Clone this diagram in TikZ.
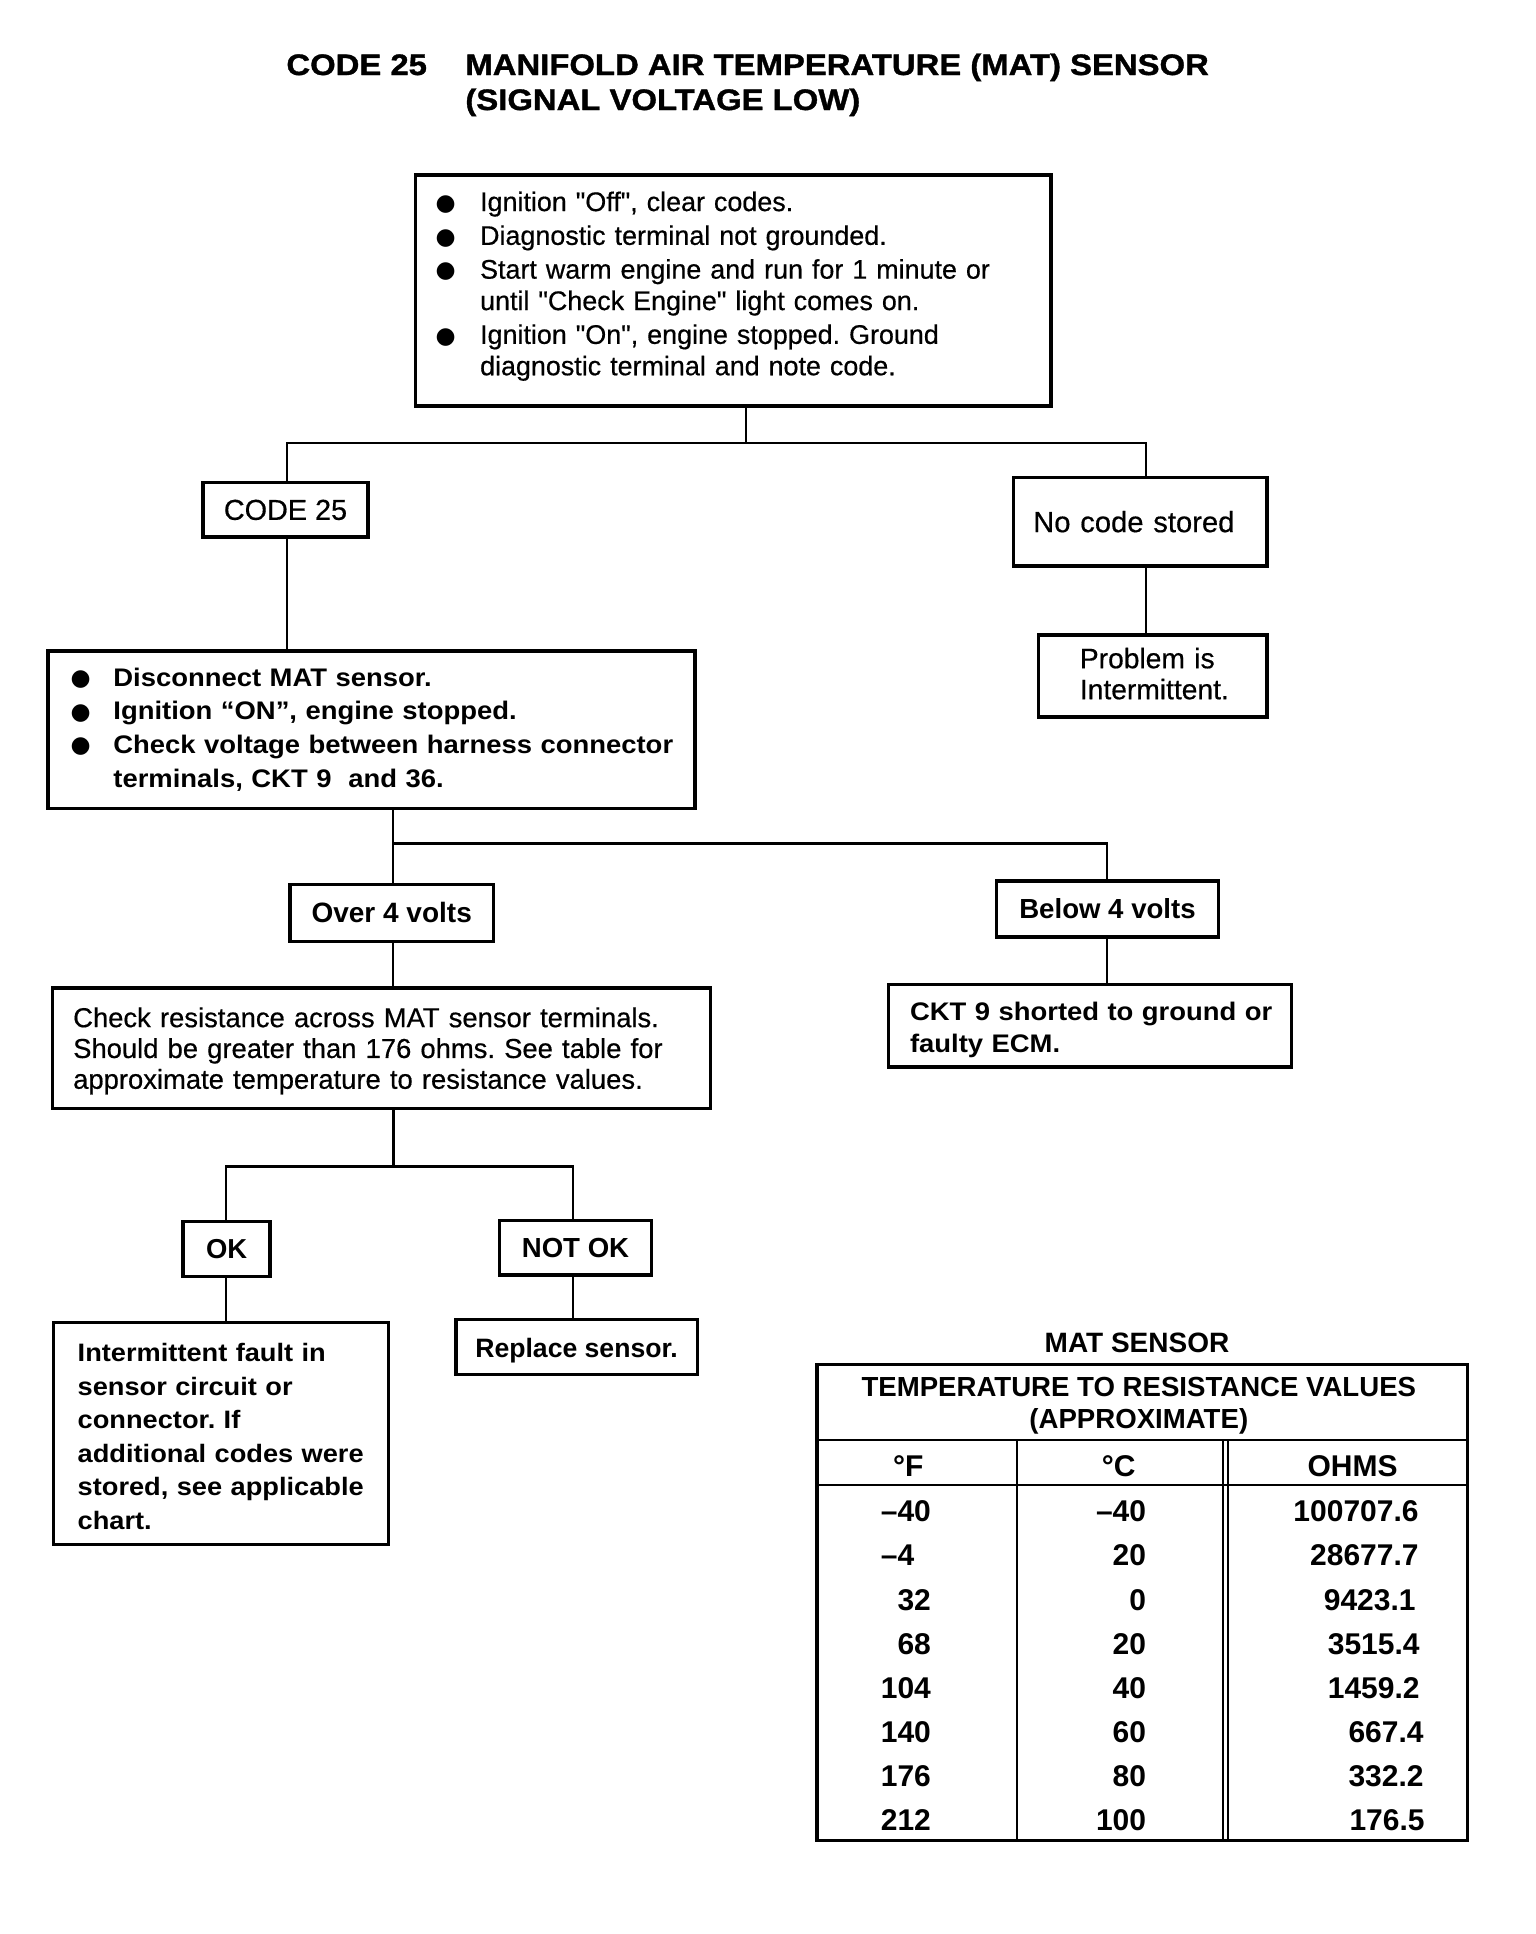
\documentclass[tikz,border=0pt]{standalone}
\usepackage{fontspec}
\setmainfont{Liberation Sans}
\newfontfamily\freg{Liberation Sans}
\newfontfamily\fmed{Liberation Sans}[FakeBold=0.5]
\newfontfamily\fstr{Liberation Sans}[FakeStretch=1.08]
\newfontfamily\ftit{Liberation Sans}[FakeStretch=1.11,FakeBold=1.2]
\newfontfamily\symfont{DejaVu Sans}
\newcommand{\fsz}[2]{\fontsize{#1}{#2}\selectfont}
\newcommand{\bul}[1][20.3pt]{\makebox[#1][l]{\raisebox{0.4pt}{\symfont\fontsize{11.5}{11.5}\selectfont ●}}}
\newcommand{\ind}[1][20.3pt]{\hspace*{#1}}
\begin{document}
\frenchspacing
\begin{tikzpicture}[x=0.5pt,y=-0.5pt,
  box/.style={draw,line width=1.7pt,inner ysep=0pt},
  conn/.style={line width=1.2pt},
  tline/.style={line width=1.3pt},
  ttext/.style={font=\freg\bfseries\fsz{15}{17},inner sep=0pt},
  ltext/.style={inner sep=0pt}]
\fill[white] (0,0) rectangle (1536,1934);
\useasboundingbox (0,0) rectangle (1536,1934);

% title
\node[ltext,anchor=base west,font=\ftit\bfseries\fsz{14.8}{17}] (t1) at (286,75) {CODE 25};
\node[ltext,anchor=base west,font=\ftit\bfseries\fsz{14.8}{17}] (t2) at (465,75) {MANIFOLD AIR TEMPERATURE (MAT) SENSOR};
\node[ltext,anchor=base west,font=\ftit\bfseries\fsz{14.8}{17}] (t3) at (465,110) {(SIGNAL VOLTAGE LOW)};

% boxes
\node[box,text width=297.75pt,inner xsep=10pt,minimum height=115.5pt,align=left,font=\fmed\fsz{13.45}{15.7}] (ign) at (733.25,290.5)
 {\bul[22.3pt]\mbox{Ignition "Off", clear codes.}\\[1.2pt]
  \bul[22.3pt]\mbox{Diagnostic terminal not grounded.}\\[1.2pt]
  \bul[22.3pt]\mbox{Start warm engine and run for 1 minute or}\\
  \ind[22.3pt]\mbox{until "Check Engine" light comes on.}\\[1.2pt]
  \bul[22.3pt]\mbox{Ignition "On", engine stopped. Ground}\\
  \ind[22.3pt]\mbox{diagnostic terminal and note code.}\rule[-7.1pt]{0pt}{0pt}};

\node[box,minimum width=82.5pt,minimum height=27.2pt,font=\fmed\fsz{14.4}{16}] (code25) at (285.5,509.9) {CODE 25};
\node[box,text width=106.8pt,inner xsep=10pt,minimum height=44.15pt,align=left,font=\fmed\fsz{14.6}{16}] (nocode) at (1140,521.7) {\mbox{No code stored}};
\node[box,text width=75pt,inner xsep=19.65pt,minimum height=41pt,align=left,font=\fmed\fsz{14.1}{15.5}] (problem) at (1152.5,675.8)
 {\hspace*{1.2pt}Problem is\\\hspace*{1.2pt}Intermittent.\rule[-2.3pt]{0pt}{0pt}};

\node[box,text width=306pt,inner xsep=8.7pt,minimum height=78.6pt,align=left,font=\fstr\bfseries\fsz{12.7}{16.85}] (disc) at (371.5,729.6)
 {\hspace*{2.55pt}\bul[21.4pt]\mbox{Disconnect MAT sensor.}\\
  \hspace*{2.55pt}\bul[21.4pt]\mbox{Ignition “ON”, engine stopped.}\\
  \hspace*{2.55pt}\bul[21.4pt]\mbox{Check voltage between harness connector}\\
  \hspace*{2.55pt}\ind[21.4pt]\mbox{terminals, CKT 9~ and 36.}};

\node[box,minimum width=101.8pt,minimum height=28.5pt,font=\freg\bfseries\fsz{14}{16}] (over) at (391.7,912.7) {Over 4 volts};
\node[box,minimum width=110.75pt,minimum height=28pt,font=\freg\bfseries\fsz{13.8}{16}] (below) at (1107.5,908.8) {Below 4 volts};

\node[box,text width=179.7pt,inner xsep=10.9pt,minimum height=41.3pt,align=left,font=\fstr\bfseries\fsz{12.7}{15.8}] (ckt) at (1089.7,1025.5)
 {\rule{0pt}{13.5pt}\mbox{CKT 9 shorted to ground or}\\\mbox{faulty ECM.}};

\node[box,text width=308pt,inner xsep=10.5pt,minimum height=60.2pt,align=left,font=\fmed\fsz{13.7}{15.4}] (check) at (381.2,1048.3)
 {\rule{0pt}{12.5pt}\mbox{Check resistance across MAT sensor terminals.}\\
  \mbox{Should be greater than 176 ohms. See table for}\\
  \mbox{approximate temperature to resistance values.}};

\node[box,minimum width=43.5pt,minimum height=27.5pt,font=\freg\bfseries\fsz{13.7}{16}] (ok) at (226.6,1249.2) {OK};
\node[box,minimum width=75.8pt,minimum height=27.3pt,font=\freg\bfseries\fsz{13.8}{16}] (notok) at (575.5,1247.7) {NOT OK};

\node[box,text width=143.5pt,inner xsep=12pt,minimum height=110.75pt,align=left,font=\fstr\bfseries\fsz{12.6}{16.8}] (inter) at (221.2,1433.5)
 {\rule{0pt}{12.2pt}\mbox{Intermittent fault in}\\\mbox{sensor circuit or}\\\mbox{connector. If}\\\mbox{additional codes were}\\\mbox{stored, see applicable}\\chart.};
\node[box,minimum width=120.7pt,minimum height=27.3pt,text height=10pt,text depth=0pt,font=\freg\bfseries\fsz{13.3}{16}] (repl) at (576.6,1347) {Replace sensor.};

% connectors
\coordinate (jA) at (746,442.7);
\coordinate (jAl) at (287,442.7);
\coordinate (jAr) at (1146,442.7);
\draw[conn] (ign.south -| jA) -- (jA);
\draw[conn] (code25.north -| jAl) -- (jAl) -- (jAr) -- (nocode.north -| jAr);
\draw[conn] (nocode.south -| jAr) -- (problem.north -| jAr);
\draw[conn] (code25.south -| jAl) -- (disc.north -| jAl);

\coordinate (jB) at (393,843.3);
\coordinate (jBr) at (1106.7,843.3);
\draw[conn] (disc.south -| jB) -- (over.north -| jB);
\draw[conn] (jB) -- (jBr) -- (below.north -| jBr);
\draw[conn] (below.south -| jBr) -- (ckt.north -| jBr);
\draw[conn] (over.south -| jB) -- (check.north -| jB);

\coordinate (jC) at (393.6,1166.6);
\coordinate (jCl) at (226.2,1166.6);
\coordinate (jCr) at (573,1166.6);
\draw[conn] (check.south -| jC) -- (jC);
\draw[conn] (ok.north -| jCl) -- (jCl) -- (jCr) -- (notok.north -| jCr);
\draw[conn] (ok.south -| jCl) -- (inter.north -| jCl);
\draw[conn] (notok.south -| jCr) -- (repl.north -| jCr);

% table
\node[ltext,anchor=base,font=\freg\bfseries\fsz{14}{16}] (mat) at (1137,1352.5) {MAT SENSOR};
\draw[line width=1.6pt] (817,1364.5) rectangle (1467.5,1840.5);
\draw[tline] (817,1440) -- (1467.5,1440);
\draw[tline] (817,1485) -- (1467.5,1485);
\draw[tline] (1017,1440) -- (1017,1840.5);
\draw[line width=1pt] (1223,1440) -- (1223,1840.5);
\draw[line width=1pt] (1228,1440) -- (1228,1840.5);
\node[ltext,anchor=base,font=\freg\bfseries\fsz{13.8}{16}] (hd1) at (1138.8,1396) {TEMPERATURE TO RESISTANCE VALUES};
\node[ltext,anchor=base,font=\freg\bfseries\fsz{13.8}{16}] (hd2) at (1138.8,1428) {(APPROXIMATE)};
\node[ltext,anchor=base,font=\freg\bfseries\fsz{15}{17}] (cF) at (908.4,1476) {°F};
\node[ltext,anchor=base,font=\freg\bfseries\fsz{15}{17}] (cC) at (1118.8,1476) {°C};
\node[ltext,anchor=base,font=\freg\bfseries\fsz{15}{17}] (cO) at (1352.5,1476) {OHMS};

\foreach \f/\c/\o/\oy/\y [count=\i] in {–40/–40/100707.6/1419/1521.7, –4\phantom{0}/20/28677.7/1419/1565.8, 32/0/9423.1/1416/1610, 68/20/3515.4/1420/1654.1, 104/40/1459.2/1420/1698.3, 140/60/667.4/1424/1742.4, 176/80/332.2/1424/1786.6, 212/100/176.5/1425/1830.7}{
  \node[ttext,anchor=base east] (f\i) at (931.3,\y) {\f};
  \node[ttext,anchor=base east] (c\i) at (1146.5,\y) {\c};
  \node[ttext,anchor=base east] (o\i) at (\oy,\y) {\o};
}
\end{tikzpicture}
\end{document}
